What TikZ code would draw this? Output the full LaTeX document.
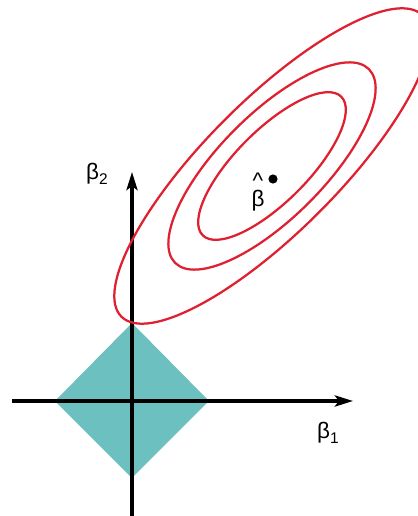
\documentclass[tikz,border=0pt]{standalone}
\usepackage{fontspec}
\setmainfont{Liberation Sans}
\usetikzlibrary{arrows.meta}
\definecolor{lassoteal}{RGB}{108,192,192}
\definecolor{contourred}{RGB}{222,32,48}
\newcommand{\subidx}[1]{\raisebox{-0.25em}{\fontsize{11}{13}\selectfont #1}}

\begin{document}
\begin{tikzpicture}[x=0.025cm, y=0.025cm,
        axis/.style={line width=2.2pt, -{Stealth[length=13pt,width=8pt,inset=3pt]}},
        contour/.style={contourred, line width=1.6pt},
        lbl/.style={inner sep=0pt, font=\fontsize{16}{18}\selectfont},
        dot/.style={circle, fill=black, inner sep=0pt, minimum size=0.23cm}]
    \useasboundingbox (0,0) rectangle (418,516);
    \coordinate (o) at (132,115);
    \coordinate (xs) at (12,115);
    \coordinate (xe) at (353,115);
    \coordinate (ys) at (132,-5);
    \coordinate (ye) at (132,344);
    \coordinate (c) at (272,350);
    % lasso region
    \fill[lassoteal] (55,115) -- (132,193) -- (209,115) -- (132,38) -- cycle;
    \draw[axis] (xs) -- (xe);
    \draw[axis] (ys) -- (ye);
    % RSS contours
    \begin{scope}
        \clip (0,0) rectangle (418,516);
        \foreach \a/\b in {98/36, 137/52, 213/66}
            \draw[contour, rotate around={45:(c)}] (c) ellipse [x radius=\a, y radius=\b];
    \end{scope}
    \node[dot] (bdot) at (273,337) {};
    \node[lbl, align=center] (bhat) at (258,324) {\textasciicircum\\[-5pt]β};
    \node[lbl] (b1) at (328,83) {β\subidx{1}};
    \node[lbl] (b2) at (97,342) {β\subidx{2}};
\end{tikzpicture}
\end{document}
